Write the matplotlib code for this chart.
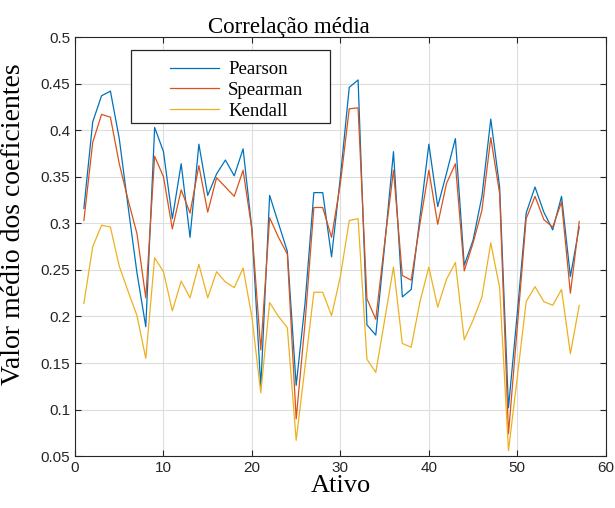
import matplotlib
matplotlib.use("Agg")
import matplotlib.pyplot as plt
import numpy as np
from matplotlib.patches import Rectangle

# valores (ativos 1..57)
ativos = np.arange(1, 58)

pearson = [0.316, 0.409, 0.437, 0.442, 0.391, 0.318, 0.247, 0.189, 0.403, 0.377,
           0.305, 0.364, 0.285, 0.385, 0.330, 0.353, 0.368, 0.351, 0.380, 0.293,
           0.124, 0.330, 0.300, 0.270, 0.126, 0.214, 0.333, 0.333, 0.264, 0.350,
           0.446, 0.454, 0.191, 0.180, 0.276, 0.377, 0.221, 0.229, 0.307, 0.385,
           0.318, 0.354, 0.391, 0.255, 0.282, 0.329, 0.412, 0.339, 0.102, 0.204,
           0.311, 0.339, 0.312, 0.293, 0.329, 0.243, 0.296]

spearman = [0.303, 0.387, 0.417, 0.414, 0.364, 0.325, 0.289, 0.220, 0.372, 0.350,
            0.294, 0.336, 0.311, 0.362, 0.312, 0.349, 0.339, 0.329, 0.357, 0.293,
            0.164, 0.306, 0.285, 0.267, 0.090, 0.193, 0.317, 0.317, 0.285, 0.343,
            0.423, 0.424, 0.219, 0.197, 0.279, 0.357, 0.244, 0.239, 0.300, 0.357,
            0.299, 0.343, 0.364, 0.249, 0.279, 0.314, 0.392, 0.332, 0.074, 0.189,
            0.305, 0.329, 0.304, 0.296, 0.323, 0.225, 0.302]

kendall = [0.214, 0.275, 0.298, 0.296, 0.254, 0.227, 0.201, 0.155, 0.263, 0.248,
           0.206, 0.238, 0.220, 0.256, 0.220, 0.248, 0.237, 0.231, 0.252, 0.199,
           0.118, 0.215, 0.200, 0.188, 0.067, 0.146, 0.226, 0.226, 0.201, 0.243,
           0.303, 0.305, 0.154, 0.140, 0.196, 0.253, 0.171, 0.167, 0.216, 0.253,
           0.210, 0.240, 0.258, 0.175, 0.196, 0.221, 0.279, 0.231, 0.056, 0.135,
           0.216, 0.232, 0.216, 0.212, 0.229, 0.160, 0.212]

serif = ["Liberation Serif", "DejaVu Serif"]

fig = plt.figure(figsize=(6.15, 5.08), dpi=100)
ax = fig.add_axes([0.122, 0.102, 0.863, 0.825])

ax.plot(ativos, pearson, color="#0072BD", lw=0.9, label="Pearson")
ax.plot(ativos, spearman, color="#D95319", lw=0.9, label="Spearman")
ax.plot(ativos, kendall, color="#EDB120", lw=0.9, label="Kendall")

ax.set_xlim(0, 60)
ax.set_ylim(0.05, 0.5)
ax.set_xticks(np.arange(0, 61, 10))
ax.set_yticks(np.arange(0.05, 0.501, 0.05))
ax.set_yticklabels(["0.05", "0.1", "0.15", "0.2", "0.25", "0.3", "0.35", "0.4", "0.45", "0.5"])
ax.grid(True, color="#dedede", lw=0.8)
ax.set_axisbelow(True)
ax.tick_params(direction="in", top=True, right=True, length=4, width=0.8,
               labelsize=11, colors="#262626")
for lab in ax.get_xticklabels() + ax.get_yticklabels():
    lab.set_family("Liberation Sans")
for s in ax.spines.values():
    s.set_color("#262626")
    s.set_linewidth(0.8)

ax.set_title("Correlação média", family=serif, fontsize=16.5, x=0.403, pad=3)
ax.set_xlabel("Ativo", family=serif, fontsize=19, labelpad=0)
ax.set_ylabel("Valor médio dos coeficientes", family=serif, fontsize=20)
ax.yaxis.set_label_coords(-0.093, 0.554)

# caixa da legenda desenhada a parte (estilo MATLAB)
ax.add_patch(Rectangle((0.1055, 0.795), 0.3745, 0.174, transform=ax.transAxes,
                       facecolor="white", edgecolor="#262626", lw=0.9, zorder=4))
leg = ax.legend(loc="upper left", bbox_to_anchor=(0.179, 0.943), frameon=False,
                handlelength=2.6, prop={"family": serif, "size": 13.5},
                borderpad=0, labelspacing=0.2, handletextpad=0.5, borderaxespad=0)
leg.set_zorder(5)

fig.savefig("out.png", dpi=100)
